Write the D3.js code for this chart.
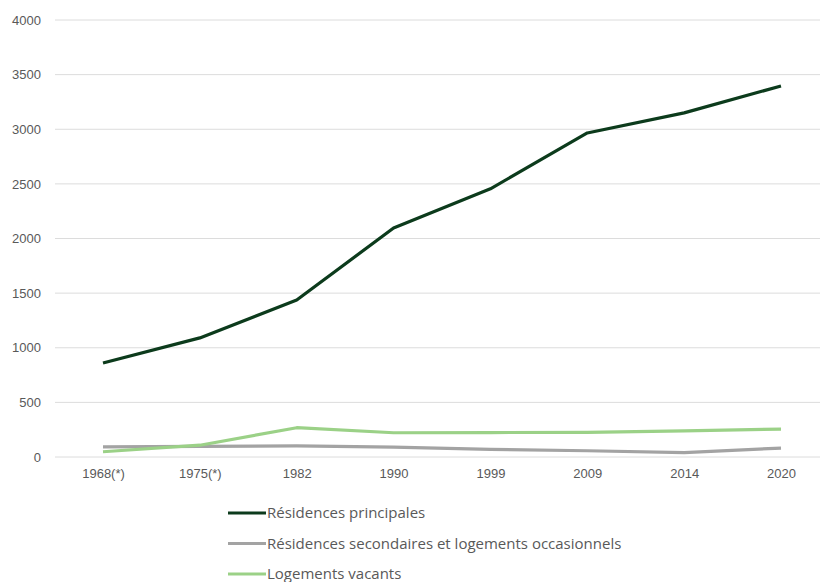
<!DOCTYPE html>
<html>
<head>
<meta charset="utf-8">
<script src="https://cdn.jsdelivr.net/npm/d3@7"></script>
<style>
  html, body { margin: 0; padding: 0; background: #fff; }
  svg { display: block; font-family: "Open Sans", "Noto Sans", sans-serif; }
</style>
</head>
<body>
<svg id="chart" width="820" height="582"></svg>
<script>
// Logements par catégorie, recensements 1968–2020
const years = ["1968(*)", "1975(*)", "1982", "1990", "1999", "2009", "2014", "2020"];
const principales = [860, 1090, 1437, 2096, 2455, 2966, 3150, 3396];
const secondaires = [92, 98, 102, 90, 70, 57, 40, 82];
const vacants = [48, 108, 268, 222, 224, 226, 240, 256];
const yTicks = [0, 500, 1000, 1500, 2000, 2500, 3000, 3500, 4000];

const seriesNames = [
  "Résidences principales",
  "Résidences secondaires et logements occasionnels",
  "Logements vacants"
];
const seriesValues = [principales, secondaires, vacants];
const seriesColors = ["#0c3b1c", "#a3a3a3", "#9bd187"];

const svg = d3.select("#chart");

const x = d3.scalePoint().domain(years).range([103, 781]);
const y = d3.scaleLinear().domain([0, 4000]).range([457, 20]);

// Horizontal gridlines
svg.append("g")
  .selectAll("line")
  .data(yTicks)
  .join("line")
  .attr("x1", 55)
  .attr("x2", 820)
  .attr("y1", d => y(d))
  .attr("y2", d => y(d))
  .attr("stroke", "#dcdcdc")
  .attr("stroke-width", 1);

// Y axis labels
const yAxis = d3.axisLeft(y).tickValues(yTicks).tickSize(0).tickPadding(0).tickFormat(d3.format("d"));
svg.append("g")
  .attr("transform", "translate(41,0)")
  .call(yAxis)
  .call(g => g.select(".domain").remove())
  .selectAll("text")
  .attr("fill", "#595959")
  .style("font-size", "13px");

// X axis labels
const xAxis = d3.axisBottom(x).tickSize(0).tickPadding(0);
svg.append("g")
  .attr("transform", "translate(0,469)")
  .call(xAxis)
  .call(g => g.select(".domain").remove())
  .selectAll("text")
  .attr("fill", "#595959")
  .style("font-size", "13px");

// Series lines
const line = d3.line()
  .x((d, i) => x(years[i]))
  .y(d => y(d));

svg.append("g")
  .selectAll("path")
  .data(seriesValues)
  .join("path")
  .attr("d", d => line(d))
  .attr("fill", "none")
  .attr("stroke", (d, i) => seriesColors[i])
  .attr("stroke-width", 3.2)
  .attr("stroke-linejoin", "round");

// Legend
const legend = svg.append("g");
const rows = legend.selectAll("g")
  .data(seriesNames)
  .join("g")
  .attr("transform", (d, i) => `translate(228,${513 + i * 30.5})`);
rows.append("line")
  .attr("x1", 0).attr("x2", 38)
  .attr("y1", 0).attr("y2", 0)
  .attr("stroke", (d, i) => seriesColors[i])
  .attr("stroke-width", 3.2);
rows.append("text")
  .attr("x", 39)
  .attr("y", 0)
  .attr("dy", "0.35em")
  .attr("fill", "#595959")
  .style("font-size", "15px")
  .text(d => d);
</script>
</body>
</html>
